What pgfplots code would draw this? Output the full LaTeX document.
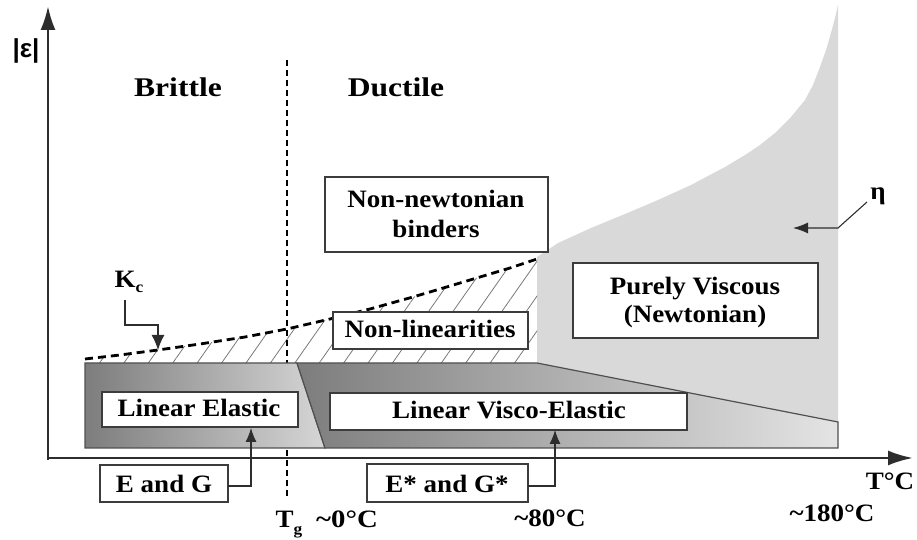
\documentclass[border=0pt]{standalone}
\usepackage{fontspec}
\setmainfont{Liberation Serif}
\newfontfamily\sansf{Liberation Sans}
\usepackage{graphicx}
\usepackage{pgfplots}
\pgfplotsset{compat=1.18}
\usetikzlibrary{arrows.meta,patterns.meta}
\definecolor{lgray}{RGB}{217,217,217}
\definecolor{hatchc}{RGB}{120,120,120}
\definecolor{bandL}{RGB}{125,125,125}
\definecolor{elR}{RGB}{214,214,214}
\definecolor{veR}{RGB}{228,228,228}
\definecolor{edge}{RGB}{80,80,80}
\definecolor{boxedge}{RGB}{60,60,60}
\definecolor{axc}{RGB}{45,45,45}
\newcommand\lab[4]{\node[anchor=base,inner sep=0pt,font=\bfseries\fontsize{#2}{#2}\selectfont] at (axis cs:#1) {\scalebox{#3}[1]{#4}};}
\begin{document}
\begin{tikzpicture}
\begin{axis}[width=917bp,height=540bp,scale only axis,hide axis,
  xmin=0,xmax=917,ymin=0,ymax=540,y dir=reverse,clip=false]
\addplot[draw=none] coordinates {(0,0) (917,540)};
% purely viscous (eta) region
\addplot[draw=none,fill=lgray] coordinates {(537,257) (558,243) (591,228) (625,214) (658,200) (691,185) (725,167) (745,155) (760,145) (775,133) (791,117) (805,100) (813,85) (820,67) (826,50) (831,33) (835,18) (838,5) (838,448) (537,448)} -- cycle;
% non-linearities hatch
\addplot[draw=none,pattern={Lines[angle=55,distance=20bp,line width=0.8bp]},pattern color=hatchc] coordinates {(85,359) (120,355) (158,350) (200,344) (245,337) (287,329) (330,319) (370,309) (413,297) (450,286) (480,277) (510,268) (537,259) (537,363) (85,363)} -- cycle;
% Tg dashed line
\addplot[black,line width=1.8bp,dash pattern=on 6bp off 4bp] coordinates {(287,60) (287,500)};
% Kc dashed curve
\addplot[black,line width=2.8bp,dash pattern=on 8bp off 5bp] coordinates {(85,359) (120,355) (158,350) (200,344) (245,337) (287,329) (330,319) (370,309) (413,297) (450,286) (480,277) (510,268) (537,259)};
% linear band
\addplot[draw=edge,line width=1.2bp,left color=bandL,right color=elR] coordinates {(85,363) (297,363) (325,448) (85,448)} -- cycle;
\addplot[draw=edge,line width=1.2bp,left color=bandL,right color=veR] coordinates {(297,363) (537,363) (838,422) (838,448) (325,448)} -- cycle;
% boxes
\addplot[draw=boxedge,line width=1.3bp,fill=white] coordinates {(102,392) (298,392) (298,427) (102,427)} -- cycle;
\addplot[draw=boxedge,line width=1.3bp,fill=white] coordinates {(330,393) (687,393) (687,430) (330,430)} -- cycle;
\addplot[draw=boxedge,line width=1.3bp,fill=white] coordinates {(100,465) (228,465) (228,502) (100,502)} -- cycle;
\addplot[draw=boxedge,line width=1.3bp,fill=white] coordinates {(367,464) (528,464) (528,502) (367,502)} -- cycle;
\addplot[draw=boxedge,line width=1.3bp,fill=white] coordinates {(325,177) (548,177) (548,252) (325,252)} -- cycle;
\addplot[draw=boxedge,line width=1.3bp,fill=white] coordinates {(333,312) (528,312) (528,349) (333,349)} -- cycle;
\addplot[draw=boxedge,line width=1.3bp,fill=white] coordinates {(573,263) (818,263) (818,338) (573,338)} -- cycle;
% pointer arrows
\addplot[draw=axc,line width=1.1bp,-{Latex[length=15bp,width=13bp]}] coordinates {(125,300) (125,325) (158,325) (158,350)};
\addplot[draw=axc,line width=1.1bp,-{Latex[length=14bp,width=11bp]}] coordinates {(228,486) (251,486) (251,428)};
\addplot[draw=axc,line width=1.1bp,-{Latex[length=14bp,width=11bp]}] coordinates {(528,486) (555,486) (555,430)};
\addplot[draw=axc,line width=1.1bp,-{Latex[length=15bp,width=11bp]}] coordinates {(867,202) (838,228) (793,228)};
% axes
\addplot[axc,line width=2.6bp,-{Latex[length=24bp,width=15bp]}] coordinates {(48,460) (48,6)};
\addplot[axc,line width=2.6bp,-{Latex[length=25bp,width=15bp]}] coordinates {(47,458) (913,458)};
% texts
\node[anchor=base,inner sep=0pt,font=\sansf\bfseries\fontsize{26bp}{26bp}\selectfont] at (axis cs:26,58) {|ε|};
\lab{178,97}{27bp}{1.17}{Brittle}
\lab{396,97}{27bp}{1.17}{Ductile}
\lab{436,208}{25bp}{1.08}{Non-newtonian}
\lab{436,238}{25bp}{1.08}{binders}
\lab{430,338}{25bp}{1.08}{Non-linearities}
\lab{695,295}{25bp}{1.08}{Purely Viscous}
\lab{695,323}{25bp}{1.08}{(Newtonian)}
\lab{199,417}{25bp}{1.08}{Linear Elastic}
\lab{509,419}{25bp}{1.08}{Linear Visco-Elastic}
\lab{164,493}{25bp}{1.08}{E and G}
\lab{447,493}{25bp}{1.08}{E* and G*}
\lab{890,490}{25bp}{1.08}{T°C}
\lab{550,527}{25bp}{1.08}{\textasciitilde80°C}
\lab{832,522}{25bp}{1.08}{\textasciitilde180°C}
\lab{347,528}{25bp}{1.15}{\textasciitilde0°C}
\lab{289,528}{25bp}{1.08}{T\raisebox{-0.25em}{\fontsize{16bp}{16bp}\selectfont g}}
\lab{129,288}{25bp}{1.08}{K\raisebox{-0.2em}{\fontsize{16bp}{16bp}\selectfont c}}
\lab{878,200}{25bp}{1.08}{η}
\end{axis}
\end{tikzpicture}
\end{document}
